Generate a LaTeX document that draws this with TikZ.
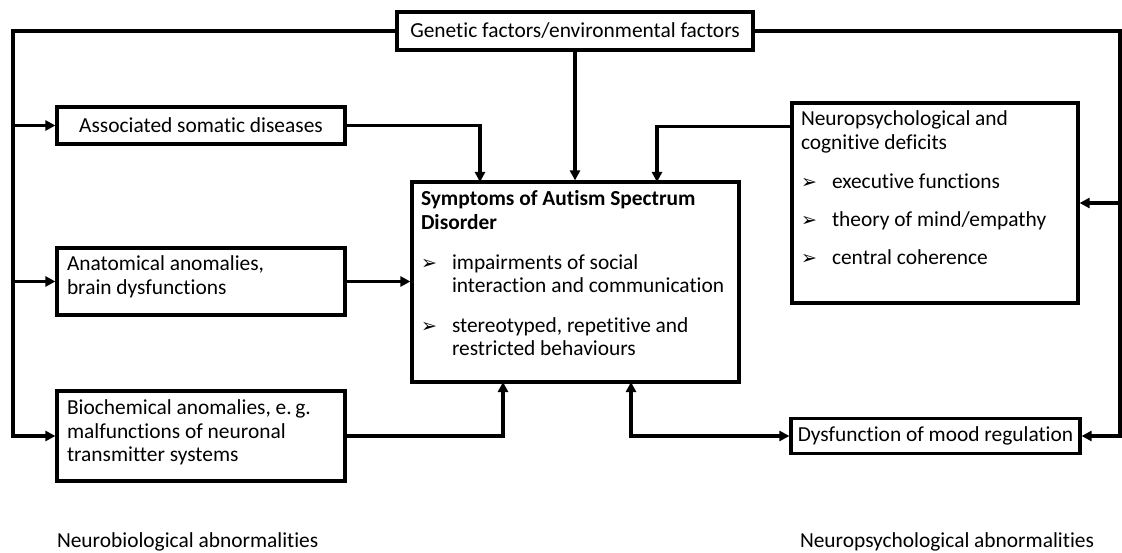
\documentclass[tikz,border=0pt]{standalone}
\usepackage{fontspec}
\setmainfont[Ligatures=NoCommon]{Carlito}
\newfontfamily\dvfont{DejaVu Sans}
\usetikzlibrary{arrows.meta}
\newcommand\fsz{\fontsize{21.4}{23.5}\selectfont}
\newcommand\bulitem{\makebox[31pt][l]{\raisebox{0pt}{\dvfont\fontsize{19}{19}\selectfont ➢}}}
\begin{document}
\begin{tikzpicture}[x=1pt,y=-1pt,line width=3.2pt,line join=miter,
  box/.style={draw,rectangle,inner sep=0pt,font=\fsz},
  txt/.style={inner sep=0pt,outer sep=0pt,anchor=north west,align=left,font=\fsz},
  lab/.style={inner sep=0pt,outer sep=0pt,anchor=base west,font=\fsz},
  conn/.style={-{Triangle[length=10pt,width=10pt]}},
  dconn/.style={{Triangle[length=10pt,width=10pt]}-{Triangle[length=10pt,width=10pt]}}]
\useasboundingbox (0,0) rectangle (1122,553);

% boxes
\node[box,minimum width=356pt,minimum height=38pt] (gen) at (575,31) {Genetic factors/environmental factors};
\node[box,minimum width=288pt,minimum height=37pt] (assoc) at (201,125.5) {Associated somatic diseases};
\node[box,minimum width=288pt,minimum height=67pt] (anat) at (201,281.5) {};
\node[box,minimum width=288pt,minimum height=90pt] (bio) at (201,436) {};
\node[box,minimum width=327pt,minimum height=200pt] (symp) at (575.5,282) {};
\node[box,minimum width=286pt,minimum height=200pt] (neuro) at (935,203) {};
\node[box,minimum width=289pt,minimum height=35pt] (mood) at (935.5,436) {Dysfunction of mood regulation};

% texts in boxes
\node[txt] (anattxt) at (67,254.5) {\strut Anatomical anomalies,\\ brain dysfunctions};
\node[txt] (biotxt) at (67,398.5) {\strut Biochemical anomalies, e.\,g.\\ malfunctions of neuronal\\ transmitter systems};
\node[txt] (symptxt) at (421,189.5) {\strut\textbf{Symptoms of Autism Spectrum}\\
  \textbf{Disorder}\\[16.5pt]
  \bulitem impairments of social\\
  \hspace*{31pt}interaction and communication\\[16pt]
  \bulitem stereotyped, repetitive and\\
  \hspace*{31pt}restricted behaviours};
\node[txt] (neurotxt) at (801,109.5) {\strut Neuropsychological and\\
  cognitive deficits\\[15.5pt]
  \bulitem executive functions\\[14.5pt]
  \bulitem theory of mind/empathy\\[14.5pt]
  \bulitem central coherence};

% bottom labels
\node[lab] (labL) at (57,547) {Neurobiological abnormalities};
\node[lab] (labR) at (800,547) {Neuropsychological abnormalities};

% helper coordinates
\coordinate (Lbot) at (13,436);
\coordinate (Rbot) at (1120,436);
\coordinate (sA) at (480,182);
\coordinate (sC) at (657,182);
\coordinate (sB) at (503,382);
\coordinate (sD) at (631,382);

% left trunk
\draw[conn] (gen.west) -| (Lbot) -- (bio.west);
\draw[conn] (Lbot |- assoc.west) -- (assoc.west);
\draw[conn] (Lbot |- anat.west) -- (anat.west);

% right trunk
\draw[conn] (gen.east) -| (Rbot) -- (mood.east);
\draw[conn] (Rbot |- neuro.east) -- (neuro.east);

% into symptoms
\draw[conn] (gen.south) -- (gen.south |- symp.north);
\draw[conn] (assoc.east) -| (sA);
\draw[conn] ([shift={(0,25.5)}]neuro.north west) -| (sC);
\draw[conn] (anat.east) -- (anat.east -| symp.west);
\draw[conn] (bio.east) -| (sB);
\draw[dconn] (sD) |- (mood.west);
\end{tikzpicture}
\end{document}
